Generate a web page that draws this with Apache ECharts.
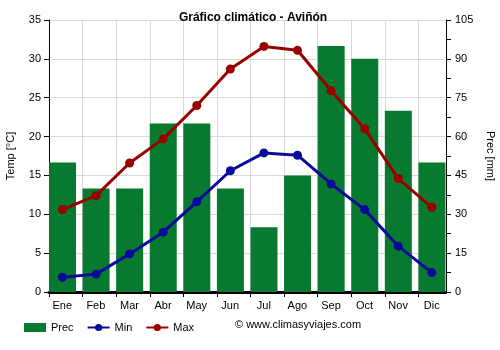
<!DOCTYPE html>
<html><head><meta charset="utf-8">
<script src="https://cdn.jsdelivr.net/npm/echarts@6/dist/echarts.min.js"></script>
<style>html,body{margin:0;padding:0;background:#fff}#c{width:500px;height:350px}</style>
</head><body><div id="c"></div>
<script>
const months = ['Ene','Feb','Mar','Abr','May','Jun','Jul','Ago','Sep','Oct','Nov','Dic'];
const prec = [50,40,40,65,65,40,25,45,95,90,70,50];
const tmin = [1.9,2.3,4.9,7.7,11.6,15.6,17.9,17.6,13.9,10.6,5.9,2.5];
const tmax = [10.6,12.4,16.6,19.7,24.0,28.7,31.6,31.1,25.9,21.0,14.6,10.9];

const chart = echarts.init(document.getElementById('c'));
const font = 'Arial, "Liberation Sans", sans-serif';
const pairs = arr => arr.map((v,i)=>[i,v]);
chart.setOption({
  animation:false,
  textStyle:{fontFamily:font},
  title:{text:'Gráfico climático - Aviñón',left:248,top:7,textAlign:'center',
    textStyle:{fontSize:12,fontWeight:'bold',color:'#000',fontFamily:font}},
  grid:{left:49,right:48,top:20,bottom:58,containLabel:false,outerBoundsMode:'none'},
  legend:{bottom:12,left:19,itemGap:13,itemWidth:22,itemHeight:9,
    textStyle:{fontSize:11,color:'#000',fontFamily:font},
    data:[{name:'Prec',icon:'rect'},{name:'Min'},{name:'Max'}]},
  graphic:[
    {type:'rect',z:50,shape:{x:447,y:14,width:10,height:286},style:{fill:'#fff'}},
    {type:'text',left:235,top:319,z:60,style:{text:'© www.climasyviajes.com',fontSize:11,fill:'#000',fontFamily:font}}
  ],
  xAxis:[
    {type:'category',data:months,
     axisLine:{onZero:false,lineStyle:{color:'#000',width:3}},
     axisTick:{show:true,alignWithLabel:false,length:5,lineStyle:{color:'#000',width:1}},
     axisLabel:{color:'#000',fontSize:11,margin:8,padding:[0,7,0,0]},
     splitLine:{show:true,lineStyle:{color:'#d9d9d9'}}},
    {type:'value',min:-0.4,max:11.6,show:false,splitLine:{show:false},axisLine:{onZero:false}}
  ],
  yAxis:[
    {type:'value',min:0,max:35,interval:5,name:'Temp [°C]',nameLocation:'middle',nameGap:33,
     nameTextStyle:{fontSize:11,color:'#000'},
     axisLine:{show:true,onZero:false,lineStyle:{color:'#000'}},
     axisTick:{show:true,length:5,lineStyle:{color:'#000'}},
     axisLabel:{color:'#000',fontSize:11},
     splitLine:{show:true,lineStyle:{color:'#d9d9d9'}}},
    {type:'value',min:0,max:105,interval:15,offset:-6,z:100,name:'Prec [mm]',nameLocation:'middle',nameGap:39,nameRotate:-90,
     nameTextStyle:{fontSize:11,color:'#000'},
     axisLine:{show:true,onZero:false,lineStyle:{color:'#000'}},
     axisTick:{show:true,length:5,lineStyle:{color:'#000'}},
     minorTick:{show:true,splitNumber:2,length:5,lineStyle:{color:'#000'}},
     axisLabel:{color:'#000',fontSize:11,margin:9},
     splitLine:{show:false}}
  ],
  series:[
    {name:'Prec',type:'bar',xAxisIndex:0,yAxisIndex:1,data:prec,barWidth:27,barGap:'-75.6%',itemStyle:{color:'#077a2f'},z:1},
    {name:'pad',type:'bar',xAxisIndex:0,yAxisIndex:1,data:prec.map(()=>0),barWidth:27,itemStyle:{color:'rgba(0,0,0,0)'},silent:true,z:0},
    {name:'Min',type:'line',xAxisIndex:1,data:pairs(tmin),symbol:'circle',symbolSize:9,itemStyle:{color:'#0a0a9a'},lineStyle:{color:'#0a0a9a',width:3},z:5},
    {name:'Max',type:'line',xAxisIndex:1,data:pairs(tmax),symbol:'circle',symbolSize:9,itemStyle:{color:'#990000'},lineStyle:{color:'#990000',width:3},z:5}
  ]
});
</script></body></html>
